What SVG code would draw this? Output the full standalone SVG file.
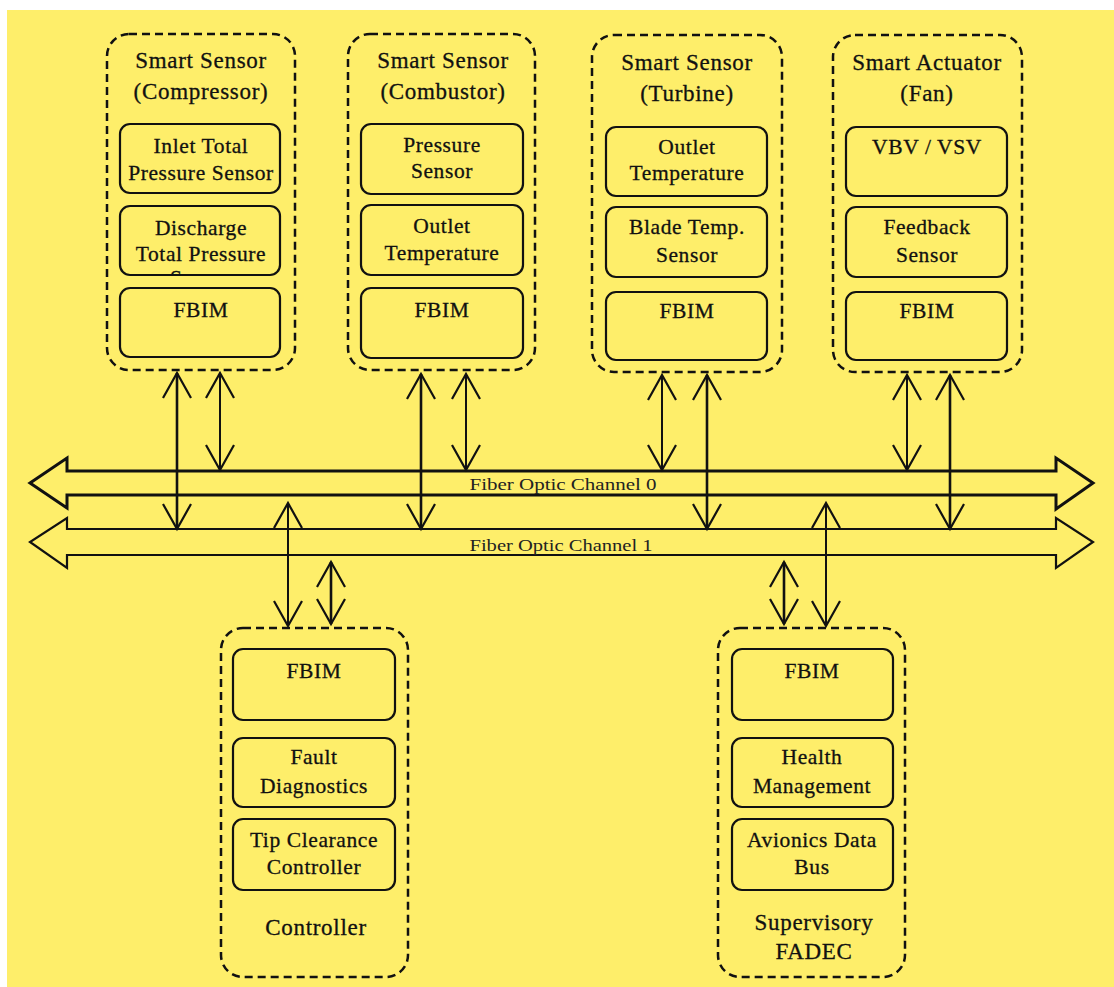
<svg xmlns="http://www.w3.org/2000/svg" width="1114" height="987" viewBox="0 0 1114 987">
  <style>
    .outer { fill: none; stroke: #111; stroke-width: 2.5; stroke-dasharray: 8 5; }
    .inner { fill: none; stroke: #111; stroke-width: 2.2; }
    .t { font-family: "Liberation Serif", "Times New Roman", serif; font-size: 21.5px; fill: #111; stroke: #111; stroke-width: 0.3; text-anchor: middle; letter-spacing: 0.6px; }
    .title { font-size: 23px; letter-spacing: 0.7px; }
    .bus { fill: none; stroke: #111; stroke-linejoin: miter; }
    .busLabel { font-family: "Liberation Serif", "Times New Roman", serif; font-size: 16px; fill: #222; text-anchor: middle; }
    .link { stroke: #111; stroke-width: 2; marker-start: url(#vhead); marker-end: url(#vhead); }
    .link.long { stroke-width: 2.6; }
  </style>
  <defs>
    <!-- open V arrowhead, tip at the line end -->
    <marker id="vhead" markerUnits="userSpaceOnUse" viewBox="-27 -16 30 32" refX="0" refY="0" markerWidth="30" markerHeight="32" orient="auto-start-reverse" overflow="visible">
      <path d="M -25 -14 L 0 0 L -25 14" fill="none" stroke="#111" stroke-width="2.2"/>
    </marker>
    <clipPath id="clipDischarge">
      <rect x="120" y="206" width="160" height="68" rx="10"/>
    </clipPath>
  </defs>

  <!-- page -->
  <rect x="0" y="0" width="1114" height="987" fill="#ffffff"/>
  <rect x="7" y="10" width="1107" height="977" fill="#FEEE6A"/>

  <!-- fiber optic buses -->
  <g id="bus-channel-0">
    <polygon class="bus" stroke-width="3" points="67,471 1056,471 1056,458 1093,483 1056,509 1056,495 67,495 67,508 30,483 67,458"/>
    <text class="busLabel" x="563" y="490" textLength="187" lengthAdjust="spacingAndGlyphs">Fiber Optic Channel 0</text>
  </g>
  <g id="bus-channel-1">
    <polygon class="bus" stroke-width="2.2" points="67,529 1056,529 1056,518 1093,542 1056,568 1056,555 67,555 67,568 30,542 67,518"/>
    <text class="busLabel" x="561" y="551" textLength="183" lengthAdjust="spacingAndGlyphs">Fiber Optic Channel 1</text>
  </g>

  <!-- Smart Sensor (Compressor) -->
  <g id="node-compressor">
    <rect class="outer" x="107" y="34" width="188" height="336" rx="22"/>
    <text class="t title" x="201" y="68">Smart Sensor</text>
    <text class="t title" x="201" y="99">(Compressor)</text>
    <rect class="inner" x="120" y="124" width="160" height="69" rx="10"/>
    <text class="t" x="201" y="153">Inlet Total</text>
    <text class="t" x="201" y="180">Pressure Sensor</text>
    <rect class="inner" x="120" y="206" width="160" height="69" rx="10"/>
    <g clip-path="url(#clipDischarge)">
      <text class="t" x="201" y="235">Discharge</text>
      <text class="t" x="201" y="261">Total Pressure</text>
      <text class="t" x="201" y="285">Sensor</text>
    </g>
    <rect class="inner" x="120" y="288" width="160" height="69" rx="10"/>
    <text class="t" x="201" y="317">FBIM</text>
  </g>

  <!-- Smart Sensor (Combustor) -->
  <g id="node-combustor">
    <rect class="outer" x="348" y="34" width="187" height="336" rx="22"/>
    <text class="t title" x="443" y="68">Smart Sensor</text>
    <text class="t title" x="443" y="99">(Combustor)</text>
    <rect class="inner" x="361" y="124" width="162" height="70" rx="10"/>
    <text class="t" x="442" y="152">Pressure</text>
    <text class="t" x="442" y="178">Sensor</text>
    <rect class="inner" x="361" y="205" width="162" height="70" rx="10"/>
    <text class="t" x="442" y="233">Outlet</text>
    <text class="t" x="442" y="260">Temperature</text>
    <rect class="inner" x="361" y="288" width="162" height="70" rx="10"/>
    <text class="t" x="442" y="317">FBIM</text>
  </g>

  <!-- Smart Sensor (Turbine) -->
  <g id="node-turbine">
    <rect class="outer" x="592" y="35" width="190" height="337" rx="22"/>
    <text class="t title" x="687" y="70">Smart Sensor</text>
    <text class="t title" x="687" y="101">(Turbine)</text>
    <rect class="inner" x="606" y="127" width="161" height="69" rx="10"/>
    <text class="t" x="687" y="154">Outlet</text>
    <text class="t" x="687" y="180">Temperature</text>
    <rect class="inner" x="606" y="207" width="161" height="70" rx="10"/>
    <text class="t" x="687" y="234">Blade Temp.</text>
    <text class="t" x="687" y="262">Sensor</text>
    <rect class="inner" x="606" y="292" width="161" height="68" rx="10"/>
    <text class="t" x="687" y="318">FBIM</text>
  </g>

  <!-- Smart Actuator (Fan) -->
  <g id="node-fan">
    <rect class="outer" x="833" y="35" width="189" height="337" rx="22"/>
    <text class="t title" x="927" y="70">Smart Actuator</text>
    <text class="t title" x="927" y="101">(Fan)</text>
    <rect class="inner" x="846" y="127" width="161" height="69" rx="10"/>
    <text class="t" x="927" y="154">VBV / VSV</text>
    <rect class="inner" x="846" y="207" width="161" height="70" rx="10"/>
    <text class="t" x="927" y="234">Feedback</text>
    <text class="t" x="927" y="262">Sensor</text>
    <rect class="inner" x="846" y="292" width="161" height="68" rx="10"/>
    <text class="t" x="927" y="318">FBIM</text>
  </g>

  <!-- Controller -->
  <g id="node-controller">
    <rect class="outer" x="221" y="628" width="187" height="349" rx="22"/>
    <rect class="inner" x="233" y="649" width="162" height="71" rx="10"/>
    <text class="t" x="314" y="678">FBIM</text>
    <rect class="inner" x="233" y="738" width="162" height="69" rx="10"/>
    <text class="t" x="314" y="764">Fault</text>
    <text class="t" x="314" y="793">Diagnostics</text>
    <rect class="inner" x="233" y="819" width="162" height="71" rx="10"/>
    <text class="t" x="314" y="847">Tip Clearance</text>
    <text class="t" x="314" y="874">Controller</text>
    <text class="t title" x="316" y="935">Controller</text>
  </g>

  <!-- Supervisory FADEC -->
  <g id="node-fadec">
    <rect class="outer" x="718" y="628" width="187" height="349" rx="22"/>
    <rect class="inner" x="732" y="649" width="161" height="71" rx="10"/>
    <text class="t" x="812" y="678">FBIM</text>
    <rect class="inner" x="732" y="738" width="161" height="69" rx="10"/>
    <text class="t" x="812" y="764">Health</text>
    <text class="t" x="812" y="793">Management</text>
    <rect class="inner" x="732" y="819" width="161" height="71" rx="10"/>
    <text class="t" x="812" y="847">Avionics Data</text>
    <text class="t" x="812" y="874">Bus</text>
    <text class="t title" x="814" y="930">Supervisory</text>
    <text class="t title" x="814" y="959">FADEC</text>
  </g>

  <!-- bus connections -->
  <g id="connectors">
    <line class="link long" x1="177" y1="373" x2="177" y2="529"/>
    <line class="link" x1="220" y1="373" x2="220" y2="470"/>
    <line class="link long" x1="421" y1="374" x2="421" y2="529"/>
    <line class="link" x1="466" y1="374" x2="466" y2="470"/>
    <line class="link" x1="662" y1="375" x2="662" y2="470"/>
    <line class="link long" x1="707" y1="375" x2="707" y2="529"/>
    <line class="link" x1="907" y1="375" x2="907" y2="470"/>
    <line class="link long" x1="950" y1="375" x2="950" y2="529"/>
    <line class="link" x1="288" y1="503" x2="288" y2="626"/>
    <line class="link long" x1="331" y1="562" x2="331" y2="624"/>
    <line class="link long" x1="784" y1="562" x2="784" y2="624"/>
    <line class="link" x1="826" y1="503" x2="826" y2="626"/>
  </g>
</svg>
